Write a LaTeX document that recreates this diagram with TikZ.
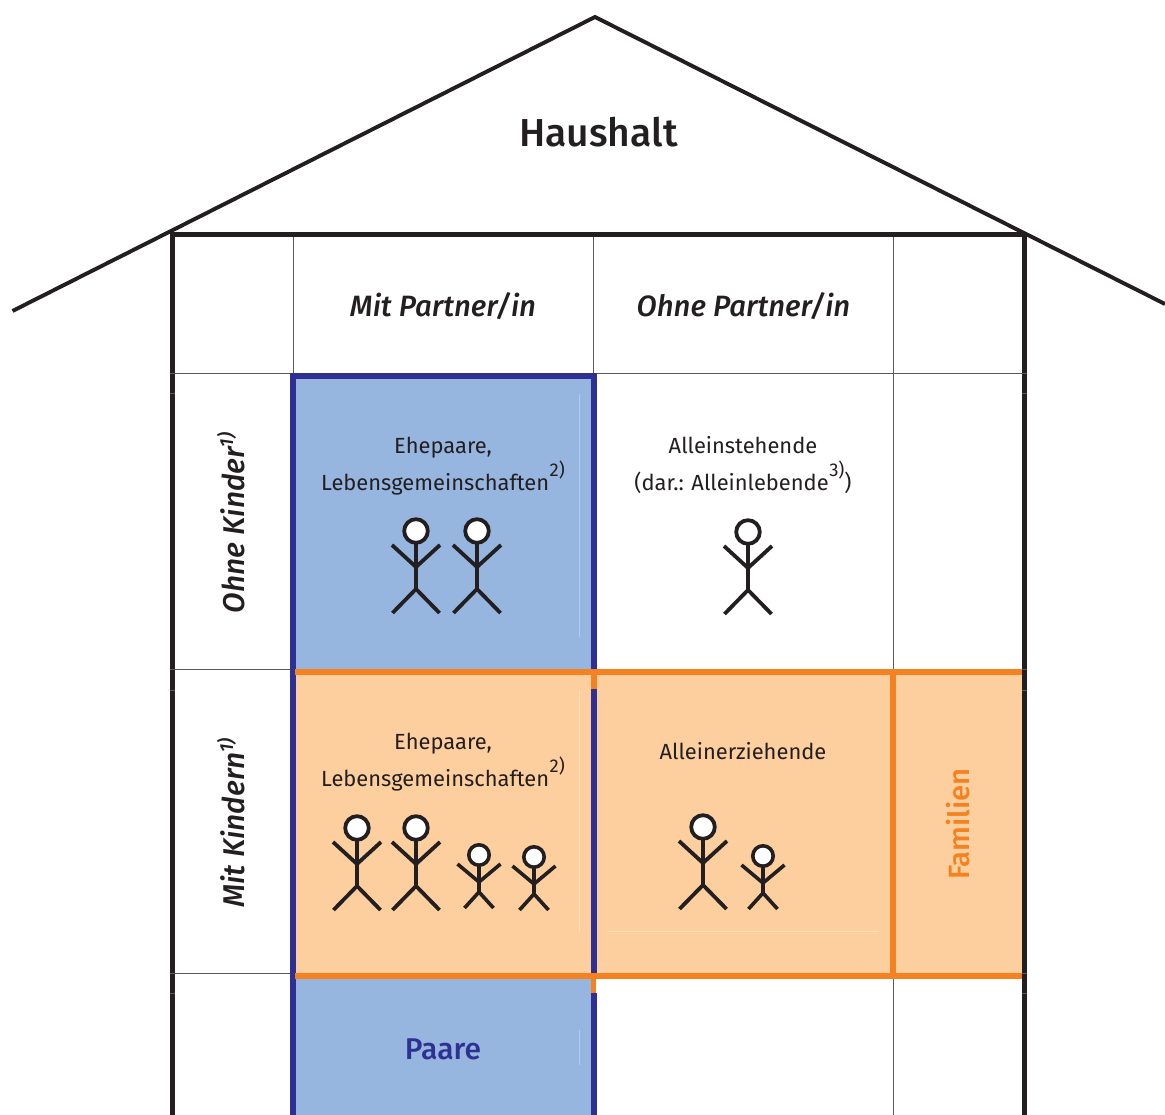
\documentclass[tikz,border=0pt]{standalone}
\usepackage{fontspec}
\setmainfont{Fira Sans}
\newfontfamily\medfont{Fira Sans Medium}
\definecolor{ink}{HTML}{231F20}
\definecolor{gridgrey}{HTML}{5A5A5A}
\definecolor{paarblue}{HTML}{2E3192}
\definecolor{paarfill}{HTML}{96B5DF}
\definecolor{famorange}{HTML}{F58220}
\definecolor{famfill}{HTML}{FDCF9F}
\newcommand{\supmark}[1]{\raisebox{0.6em}{\kern.5pt\fontsize{18.5}{18}\selectfont #1}}
\newcommand{\rowsup}[1]{\raisebox{0.36em}{\kern-.5pt\fontsize{19}{18}\selectfont #1}}
\tikzset{
  wall/.style={draw=ink,line width=5.4pt},
  roofline/.style={draw=ink,line width=3.9pt},
  thin grid/.style={draw=gridgrey,line width=1pt},
  tick/.style={draw=gridgrey,line width=1pt},
  blueline/.style={draw=paarblue,line width=5.6pt},
  orangeline/.style={draw=famorange,line width=5.6pt},
  faintblue/.style={draw=white,opacity=.3,line width=.8pt},
  faintorange/.style={draw=white,opacity=.3,line width=.8pt},
  body/.style={inner sep=0pt,anchor=base,text=ink,font=\fontsize{21.9}{24}\selectfont},
  colhead/.style={inner sep=0pt,anchor=base,text=ink,font=\medfont\itshape\fontsize{29.4}{32}\selectfont},
  rowhead/.style={inner sep=0pt,anchor=base,rotate=90,text=ink,font=\medfont\itshape\fontsize{30}{32}\selectfont},
  adult/.pic={
    \draw[draw=ink,fill=white,line width=3.8pt] (0,0) circle (11.8);
    \draw[draw=ink,line width=3.8pt] (0,12) -- (0,58) (-24,14) -- (0,36) -- (24,14) (-23.5,82) -- (0,58) -- (23.5,82);
  },
  child/.pic={
    \draw[draw=ink,fill=white,line width=3.6pt] (0,0) circle (10.2);
    \draw[draw=ink,line width=3.6pt] (0,11) -- (0,37) (-21.5,9) -- (0,27) -- (21.5,9) (-14.5,53) -- (0,37) -- (14.5,53);
  }
}
\begin{document}
\begin{tikzpicture}[x=1pt,y=-1pt]
\useasboundingbox (0,0) rectangle (1165,1115);
\fill[white] (0,0) rectangle (1165,1115);
% roof
\draw[roofline] (12.5,311) -- (595,17) -- (1165,304);
% thin grid
\draw[thin grid] (293,234) -- (293,374);
\draw[thin grid] (593.5,234) -- (593.5,374);
\draw[thin grid] (893,234) -- (893,669);
\draw[thin grid] (893,979) -- (893,1115);
\draw[thin grid] (175,373.5) -- (1022,373.5);
\draw[thin grid] (175,669.5) -- (290,669.5);
\draw[thin grid] (175,973.5) -- (290,973.5);
% walls
\draw[wall] (172.5,1115) -- (172.5,234.5) -- (1024.5,234.5) -- (1024.5,1115);
\foreach \ty in {373.5,393.5,669.5,690,973.5,993.5}{
  \draw[tick] (170,\ty) -- (175,\ty);
  \draw[tick] (1022,\ty) -- (1027,\ty);
}
% fills
\fill[paarfill] (295,376) rectangle (594,672);
\fill[famfill] (295,672) rectangle (1022,976);
\fill[paarfill] (295,976) rectangle (594,1115);
\draw[faintblue] (579.5,394) -- (579.5,637);
\draw[faintorange] (579.5,690) -- (579.5,933);
\draw[faintorange] (608,931.5) -- (879,931.5);
\draw[faintblue] (579.5,1030) -- (579.5,1065);
% blue frame
\draw[blueline] (293,1115) -- (293,376.2) -- (594,376.2) -- (594,672);
\draw[blueline] (594,689) -- (594,976);
\draw[blueline] (594,993) -- (594,1115);
% orange frame
\draw[orangeline] (295,672) -- (1022,672);
\draw[orangeline] (295,976) -- (1022,976);
\draw[orangeline] (893,672) -- (893,976);
\draw[draw=famorange,line width=5.6pt] (594,672) -- (594,689);
\draw[draw=famorange,line width=5pt] (593.5,976) -- (593.5,993);
% figures
\pic at (416,531) {adult};
\pic at (477,531) {adult};
\pic at (748,532) {adult};
\pic at (357,828) {adult};
\pic at (416,828) {adult};
\pic at (479,855) {child};
\pic at (534,857) {child};
\pic at (703,827) {adult};
\pic at (763,856) {child};
% texts
\node[inner sep=0pt,anchor=base,text=ink,font=\medfont\fontsize{39}{40}\selectfont] (haushalt) at (598.5,146.5) {Haushalt};
\node[colhead] (mitpartner) at (443,316.5) {Mit Partner/in};
\node[colhead] (ohnepartner) at (743.5,316.5) {Ohne Partner/in};
\node[rowhead] (ohnekinder) at (244,523) {Ohne Kinder\rowsup{\itshape 1)}};
\node[rowhead] (mitkindern) at (244,823) {Mit Kindern\rowsup{\itshape 1)}};
\node[body] (eheA) at (443,453) {Ehepaare,};
\node[body] (lebA) at (443,490) {Lebensgemeinschaften\supmark{2)}};
\node[body] (allein) at (743,453) {Alleinstehende};
\node[body] (dar) at (743,490) {(dar.: Alleinlebende\supmark{3)})};
\node[body] (eheB) at (443,749) {Ehepaare,};
\node[body] (lebB) at (443,786) {Lebensgemeinschaften\supmark{2)}};
\node[body] (erz) at (743,759) {Alleinerziehende};
\node[inner sep=0pt,anchor=base,rotate=90,text=famorange,font=\medfont\fontsize{29.3}{32}\selectfont] (familien) at (969,824) {Familien};
\node[inner sep=0pt,anchor=base,text=paarblue,font=\medfont\fontsize{30}{32}\selectfont] (paare) at (443,1059) {Paare};
\end{tikzpicture}
\end{document}
